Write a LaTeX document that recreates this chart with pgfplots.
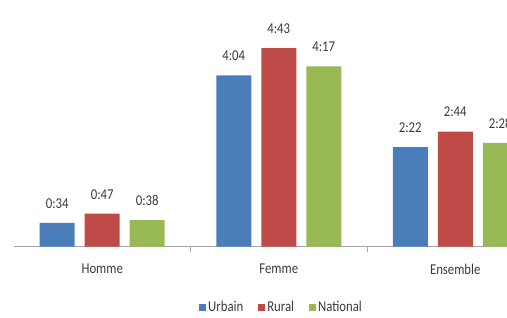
\documentclass[border=0pt]{standalone}
\usepackage{fontspec}
\setmainfont{Carlito}[FakeStretch=0.85]
\usepackage{pgfplots}
\pgfplotsset{compat=1.18}
\definecolor{cU}{HTML}{4A7EBB}
\definecolor{cR}{HTML}{BE4B48}
\definecolor{cN}{HTML}{98B954}
\definecolor{txt}{HTML}{3A3A3A}
\definecolor{axc}{HTML}{A6A6A6}
\newcommand{\lblfont}{\fontsize{15pt}{17pt}\selectfont}
\begin{document}
\begin{tikzpicture}
\useasboundingbox (0pt,0pt) rectangle (507pt,318pt);
\clip (0pt,0pt) rectangle (507pt,318pt);
\begin{axis}[
  at={(14pt,71.3pt)}, anchor=south west,
  scale only axis, width=529.5pt, height=210.6pt,
  xmin=-0.5, xmax=2.5, ymin=0, ymax=300,
  axis x line*=bottom, axis y line=none, ytick=\empty,
  x axis line style={draw=axc, line width=0.8pt, -},
  xtick={0,1,2}, xticklabels={Homme,Femme,Ensemble},
  major tick length=0pt,
  xticklabel style={anchor=center, yshift=-22.5pt, font=\lblfont, text=txt},
  extra x ticks={0.5,1.5}, extra x tick labels={},
  extra x tick style={major tick length=5pt, tick align=outside, tick style={draw=axc, line width=0.8pt}},
  ybar=10pt, bar width=35pt,
  nodes near coords, point meta=explicit symbolic,
  every node near coord/.append style={inner sep=0pt, yshift=14.3pt, font=\lblfont, text=txt},
  clip=false,
  legend columns=3,
  legend style={draw=none, fill=none, at={(axis cs:1.016,-86)}, anchor=center, font=\lblfont, text=txt,
    /tikz/every even column/.append style={column sep=13pt}},
  legend image code/.code={\fill[#1] (0pt,-3.5pt) rectangle (7pt,3.5pt);},
]
\addplot[fill=cU, draw=none] coordinates {(0,34) [0:34] (1,244) [4:04] (2,142) [2:22]};
\addplot[fill=cR, draw=none] coordinates {(0,47) [0:47] (1,283) [4:43] (2,164) [2:44]};
\addplot[fill=cN, draw=none] coordinates {(0,38) [0:38] (1,257) [4:17] (2,148) [2:28]};
\legend{Urbain,Rural,National}
\end{axis}
\end{tikzpicture}
\end{document}
